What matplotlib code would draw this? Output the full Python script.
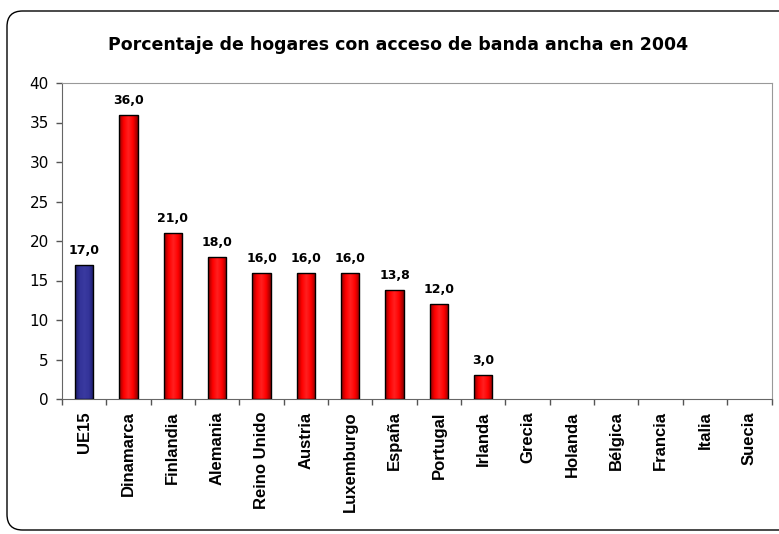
import numpy as np
import matplotlib.pyplot as plt
from matplotlib.patches import FancyBboxPatch
from matplotlib.colors import LinearSegmentedColormap

# --- data ---
countries = ["UE15", "Dinamarca", "Finlandia", "Alemania", "Reino Unido", "Austria",
             "Luxemburgo", "España", "Portugal", "Irlanda", "Grecia", "Holanda",
             "Bélgica", "Francia", "Italia", "Suecia"]
values = [17.0, 36.0, 21.0, 18.0, 16.0, 16.0, 16.0, 13.8, 12.0, 3.0,
          None, None, None, None, None, None]
title = "Porcentaje de hogares con acceso de banda ancha en 2004"

W, H = 779, 534
fig = plt.figure(figsize=(W / 100, H / 100), dpi=100)

# rounded frame around the chart
frame = FancyBboxPatch((7 / W, 4 / H), (W + 20) / W, (H - 15) / H,
                       boxstyle="round,pad=0,rounding_size=0.02",
                       transform=fig.transFigure, facecolor="white",
                       edgecolor="black", linewidth=1.0, zorder=-1,
                       mutation_aspect=W / H)
fig.patches.append(frame)

ax = fig.add_axes([62 / W, 1 - 399 / H, (771.5 - 62) / W, (399 - 83) / H])
ax.set_facecolor("none")
ax.set_zorder(2)

red_grad = LinearSegmentedColormap.from_list("r", ["#8B0000", "#FF0000", "#FF2020", "#FF0000", "#8B0000"])
blue_grad = LinearSegmentedColormap.from_list("b", ["#1A1A66", "#333399", "#3A3AA0", "#333399", "#1A1A66"])
grad = np.linspace(0, 1, 64).reshape(1, -1)

x = np.arange(len(countries))
bw = 0.41
for i, v in enumerate(values):
    if v is None:
        continue
    cmap = blue_grad if i == 0 else red_grad
    bar = ax.bar(x[i], v, width=bw, color="none", edgecolor="black", linewidth=1.0, zorder=4)[0]
    im = ax.imshow(grad, cmap=cmap, aspect="auto", zorder=3,
                   extent=(x[i] - bw / 2, x[i] + bw / 2, 0, v))
    im.set_clip_path(bar)
    ax.text(x[i], v + 1.0, f"{v:.1f}".replace(".", ","), ha="center", va="bottom",
            fontsize=9, fontweight="bold", family="DejaVu Sans")

ax.set_xlim(-0.5, len(countries) - 0.5)
ax.set_ylim(0, 40)
ax.set_yticks(range(0, 41, 5))
ax.tick_params(axis="y", direction="out", length=4, width=1, colors="#555555",
               labelcolor="black", labelsize=11, pad=5.5)
ax.set_xticks(x)
ax.set_xticklabels(countries, rotation=90, fontsize=12, fontweight="bold",
                   family="Liberation Sans")
ax.set_xticks(np.arange(-0.5, len(countries)), minor=True)
ax.tick_params(axis="x", which="major", length=0, pad=9)
ax.tick_params(axis="x", which="minor", direction="out", length=4, width=1,
               colors="#555555")
for lab in ax.get_yticklabels():
    lab.set_family("DejaVu Sans")

ax.spines["left"].set_color("#666666")
ax.spines["bottom"].set_color("#666666")
ax.spines["top"].set_color("#999999")
ax.spines["right"].set_color("#999999")

fig.text(398 / W, 1 - 45 / H, title, ha="center", va="center", fontsize=12.5,
         fontweight="bold", family="DejaVu Sans")

fig.savefig("out.png", dpi=100)
